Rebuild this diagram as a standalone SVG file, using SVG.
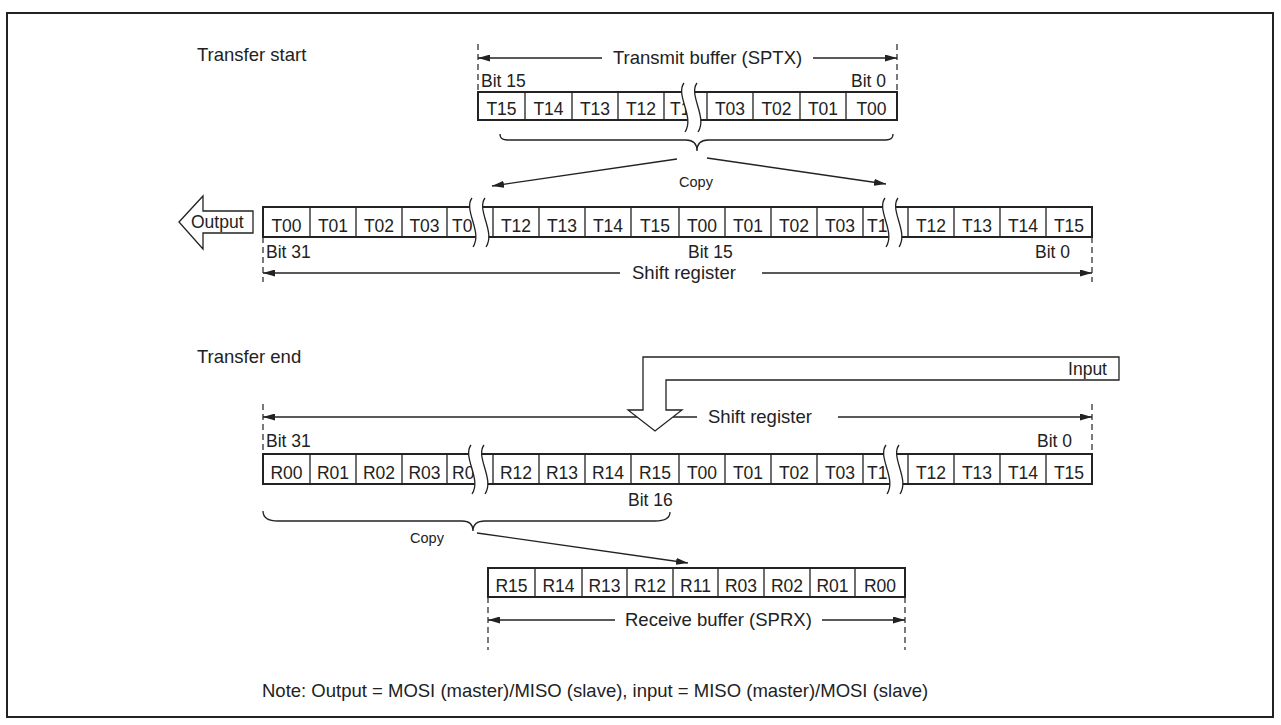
<svg xmlns="http://www.w3.org/2000/svg" width="1281" height="725" viewBox="0 0 1281 725">
<style>
.t{font-family:"Liberation Sans",Arial,Helvetica,sans-serif;fill:#222}
.ct{font-size:17.5px;text-anchor:middle}
.fr{font-size:17.5px}
.lbl{font-size:18.5px}
.copy{font-size:14.5px;text-anchor:middle}
.box{fill:#fff;stroke:#222;stroke-width:2}
.dv{stroke:#222;stroke-width:1.3}
.dash{stroke:#222;stroke-width:1.2;stroke-dasharray:6 4;fill:none}
.conn{stroke:#222;stroke-width:1.3;fill:none}
.shape{fill:#fff;stroke:#222;stroke-width:1.3}
.bf{fill:#fff;stroke:none}
.bl{fill:none;stroke:#222;stroke-width:1.3}
</style>
<defs>
<marker id="ah" markerUnits="userSpaceOnUse" markerWidth="12" markerHeight="7" refX="12" refY="3.5" orient="auto-start-reverse">
<path d="M0,0 L12,3.5 L0,7 Z" fill="#222"/>
</marker>
<g id="brk">
<path class="bf" d="M0,-9 C-9,3 11,25 1,40 L14,40 C24,25 4,3 13,-9 Z"/>
<path class="bl" d="M0,-9 C-9,3 11,25 1,40"/>
<path class="bl" d="M13,-9 C4,3 24,25 14,40"/>
</g>
</defs>
<rect x="7" y="13" width="1266" height="704" fill="#fff" stroke="#222" stroke-width="2"/>

<g id="titles">
<text class="t lbl" x="197" y="61">Transfer start</text>
<text class="t lbl" x="197" y="363">Transfer end</text>
<text class="t lbl" x="262" y="697">Note: Output = MOSI (master)/MISO (slave), input = MISO (master)/MOSI (slave)</text>
</g>

<g id="connectors">
<line class="dash" x1="478" y1="44" x2="478" y2="92"/>
<line class="dash" x1="897" y1="44" x2="897" y2="92"/>
<line class="conn" x1="478" y1="58" x2="602" y2="58" marker-start="url(#ah)"/>
<line class="conn" x1="813" y1="58" x2="897" y2="58" marker-end="url(#ah)"/>
<path class="conn" d="M500,134 C500,139 503,140 510,140 L686,140 C693,140 697,143 697,151 C697,143 701,140 708,140 L883,140 C890,140 893,139 893,134"/>
<line class="conn" x1="677" y1="159" x2="492" y2="186" marker-end="url(#ah)"/>
<line class="conn" x1="707" y1="158" x2="886" y2="184" marker-end="url(#ah)"/>
<line class="dash" x1="263" y1="237" x2="263" y2="282"/>
<line class="dash" x1="1092" y1="237" x2="1092" y2="282"/>
<line class="conn" x1="263" y1="273" x2="620" y2="273" marker-start="url(#ah)"/>
<line class="conn" x1="762" y1="273" x2="1092" y2="273" marker-end="url(#ah)"/>
<line class="dash" x1="263" y1="404" x2="263" y2="454"/>
<line class="dash" x1="1092" y1="404" x2="1092" y2="454"/>
<line class="conn" x1="263" y1="417" x2="697" y2="417" marker-start="url(#ah)"/>
<line class="conn" x1="838" y1="417" x2="1092" y2="417" marker-end="url(#ah)"/>
<path class="conn" d="M263,511 C263,518 268,521 278,521 L462,521 C469,521 473,524 473,531 C473,524 477,521 485,521 L655,521 C665,521 670,518 670,512"/>
<line class="conn" x1="477" y1="533" x2="688" y2="563" marker-end="url(#ah)"/>
<line class="dash" x1="488" y1="597" x2="488" y2="650"/>
<line class="dash" x1="905" y1="597" x2="905" y2="650"/>
<line class="conn" x1="488" y1="620" x2="615" y2="620" marker-start="url(#ah)"/>
<line class="conn" x1="822" y1="620" x2="905" y2="620" marker-end="url(#ah)"/>
</g>

<g id="connector-labels">
<text class="t lbl" x="613" y="64">Transmit buffer (SPTX)</text>
<text class="t copy" x="696" y="187">Copy</text>
<text class="t lbl" x="632" y="279">Shift register</text>
<text class="t lbl" x="708" y="423">Shift register</text>
<text class="t copy" x="427" y="543">Copy</text>
<text class="t lbl" x="625" y="626">Receive buffer (SPRX)</text>
</g>

<g id="transmit-buffer">
<rect class="box" x="478" y="92" width="419" height="28"/>
<path class="dv" d="M525,92V120M572,92V120M618,92V120M664,92V120M707,92V120M753,92V120M800,92V120M846,92V120"/>
<text class="t ct" x="501.5" y="115">T15</text>
<text class="t ct" x="548.5" y="115">T14</text>
<text class="t ct" x="595" y="115">T13</text>
<text class="t ct" x="641" y="115">T12</text>
<text class="t fr" x="670" y="115">T1</text>
<text class="t ct" x="730" y="115">T03</text>
<text class="t ct" x="776.5" y="115">T02</text>
<text class="t ct" x="823" y="115">T01</text>
<text class="t ct" x="871.5" y="115">T00</text>
<use href="#brk" x="684" y="92"/>
<text class="t fr" x="481" y="87">Bit 15</text>
<text class="t fr" x="886" y="87" text-anchor="end">Bit 0</text>
</g>

<g id="output-arrow">
<polygon class="shape" points="179,222 203,196 203,211 253,211 253,233 203,233 203,249"/>
<text class="t fr" x="191" y="228">Output</text>
</g>

<g id="shift-register-start">
<rect class="box" x="263" y="207" width="829" height="30"/>
<path class="dv" d="M310,207V237M356,207V237M402,207V237M447,207V237M493,207V237M539,207V237M585,207V237M631,207V237M679,207V237M725,207V237M771,207V237M817,207V237M863,207V237M908,207V237M954,207V237M1000,207V237M1046,207V237"/>
<text class="t ct" x="286.5" y="232">T00</text>
<text class="t ct" x="333" y="232">T01</text>
<text class="t ct" x="379" y="232">T02</text>
<text class="t ct" x="424.5" y="232">T03</text>
<text class="t fr" x="452" y="232">T0</text>
<text class="t ct" x="516" y="232">T12</text>
<text class="t ct" x="562" y="232">T13</text>
<text class="t ct" x="608" y="232">T14</text>
<text class="t ct" x="655" y="232">T15</text>
<text class="t ct" x="702" y="232">T00</text>
<text class="t ct" x="748" y="232">T01</text>
<text class="t ct" x="794" y="232">T02</text>
<text class="t ct" x="840" y="232">T03</text>
<text class="t fr" x="867" y="232">T1</text>
<text class="t ct" x="931" y="232">T12</text>
<text class="t ct" x="977" y="232">T13</text>
<text class="t ct" x="1023" y="232">T14</text>
<text class="t ct" x="1069" y="232">T15</text>
<use href="#brk" x="472" y="207"/>
<use href="#brk" x="885" y="207"/>
<text class="t fr" x="266" y="258">Bit 31</text>
<text class="t fr" x="688" y="258">Bit 15</text>
<text class="t fr" x="1070" y="258" text-anchor="end">Bit 0</text>
</g>

<g id="input-arrow">
<polygon class="shape" points="643,357 1119,357 1119,380 666,380 666,410 682,410 655,431 628,410 643,410"/>
<text class="t fr" x="1107" y="375" text-anchor="end">Input</text>
</g>

<g id="shift-register-end">
<rect class="box" x="263" y="454" width="829" height="30"/>
<path class="dv" d="M310,454V484M356,454V484M402,454V484M447,454V484M493,454V484M539,454V484M585,454V484M631,454V484M679,454V484M725,454V484M771,454V484M817,454V484M863,454V484M908,454V484M954,454V484M1000,454V484M1046,454V484"/>
<text class="t ct" x="286.5" y="479">R00</text>
<text class="t ct" x="333" y="479">R01</text>
<text class="t ct" x="379" y="479">R02</text>
<text class="t ct" x="424.5" y="479">R03</text>
<text class="t fr" x="452" y="479">R0</text>
<text class="t ct" x="516" y="479">R12</text>
<text class="t ct" x="562" y="479">R13</text>
<text class="t ct" x="608" y="479">R14</text>
<text class="t ct" x="655" y="479">R15</text>
<text class="t ct" x="702" y="479">T00</text>
<text class="t ct" x="748" y="479">T01</text>
<text class="t ct" x="794" y="479">T02</text>
<text class="t ct" x="840" y="479">T03</text>
<text class="t fr" x="867" y="479">T1</text>
<text class="t ct" x="931" y="479">T12</text>
<text class="t ct" x="977" y="479">T13</text>
<text class="t ct" x="1023" y="479">T14</text>
<text class="t ct" x="1069" y="479">T15</text>
<use href="#brk" x="471" y="454"/>
<use href="#brk" x="886" y="454"/>
<text class="t fr" x="266" y="447">Bit 31</text>
<text class="t fr" x="1072" y="447" text-anchor="end">Bit 0</text>
<text class="t fr" x="628" y="506">Bit 16</text>
</g>

<g id="receive-buffer">
<rect class="box" x="488" y="568" width="417" height="29"/>
<path class="dv" d="M535,568V597M582,568V597M627,568V597M673,568V597M718,568V597M764,568V597M810,568V597M855,568V597"/>
<text class="t ct" x="511.5" y="592">R15</text>
<text class="t ct" x="558.5" y="592">R14</text>
<text class="t ct" x="604.5" y="592">R13</text>
<text class="t ct" x="650" y="592">R12</text>
<text class="t ct" x="695.5" y="592">R11</text>
<text class="t ct" x="741" y="592">R03</text>
<text class="t ct" x="787" y="592">R02</text>
<text class="t ct" x="832.5" y="592">R01</text>
<text class="t ct" x="880" y="592">R00</text>
</g>
</svg>
